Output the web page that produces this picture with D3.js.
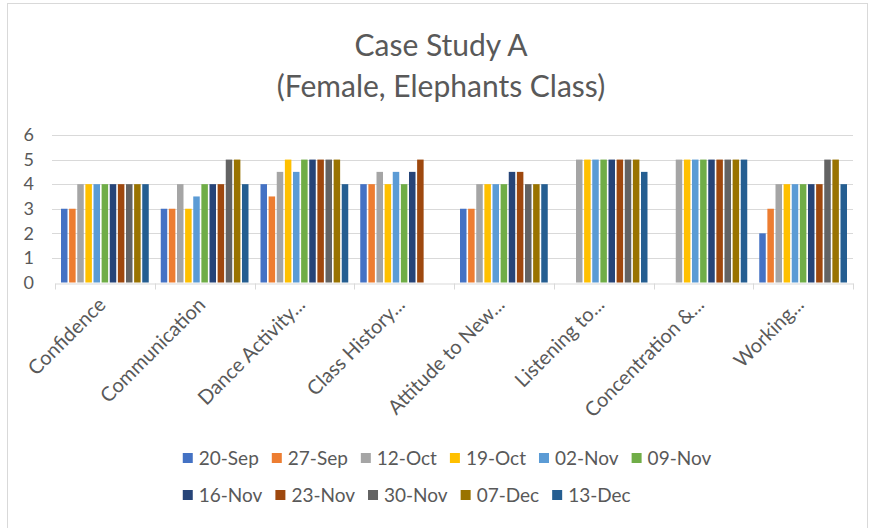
<!DOCTYPE html>
<html>
<head>
<meta charset="utf-8">
<script src="https://cdn.jsdelivr.net/npm/d3@7/dist/d3.min.js"></script>
<style>
  html, body { margin: 0; padding: 0; background: #fff; }
  svg { display: block; font-family: Lato, "Open Sans", sans-serif; }
</style>
</head>
<body>
<svg id="chart" width="870" height="528"></svg>
<script>
// Assessment categories (x axis)
const categories = [
  "Confidence", "Communication", "Dance Activity...", "Class History...",
  "Attitude to New...", "Listening to...", "Concentration &...", "Working..."
];

// Session dates (one bar per date in each category)
const sessions = [
  "20-Sep", "27-Sep", "12-Oct", "19-Oct", "02-Nov", "09-Nov",
  "16-Nov", "23-Nov", "30-Nov", "07-Dec", "13-Dec"
];

// Scores per category, in session order (null = not assessed)
const confidence    = [3, 3, 4, 4, 4, 4, 4, 4, 4, 4, 4];
const communication = [3, 3, 4, 3, 3.5, 4, 4, 4, 5, 5, 4];
const danceActivity = [4, 3.5, 4.5, 5, 4.5, 5, 5, 5, 5, 5, 4];
const classHistory  = [4, 4, 4.5, 4, 4.5, 4, 4.5, 5, null, null, null];
const attitudeNew   = [3, 3, 4, 4, 4, 4, 4.5, 4.5, 4, 4, 4];
const listening     = [null, null, 5, 5, 5, 5, 5, 5, 5, 5, 4.5];
const concentration = [null, null, 5, 5, 5, 5, 5, 5, 5, 5, 5];
const working       = [2, 3, 4, 4, 4, 4, 4, 4, 5, 5, 4];

const scores = [confidence, communication, danceActivity, classHistory,
                attitudeNew, listening, concentration, working];

const yTicks = [0, 1, 2, 3, 4, 5, 6];

const colors = ["#4472C4", "#ED7D31", "#A5A5A5", "#FFC000", "#5B9BD5", "#70AD47",
                "#264478", "#9E480E", "#636363", "#997300", "#255E91"];

const svg = d3.select("#chart");
const textColor = "#595959";
const gridColor = "#d9d9d9";

// chart frame
svg.append("rect")
  .attr("x", 7.5).attr("y", 3.5)
  .attr("width", 860).attr("height", 540)
  .attr("fill", "#fff").attr("stroke", gridColor);

// title
const title = svg.append("text")
  .attr("text-anchor", "middle")
  .attr("fill", textColor)
  .style("font-size", "30px");
title.append("tspan").attr("x", 441).attr("y", 56).text("Case Study A");
title.append("tspan").attr("x", 441).attr("y", 97).text("(Female, Elephants Class)");

// scales
const x = d3.scaleBand().domain(categories).range([55, 853]);
const xInner = d3.scaleBand().domain(sessions)
  .range([6, x.bandwidth() - 6]).paddingInner(0.2);
const y = d3.scaleLinear().domain([0, 6]).range([282.5, 135]);
const color = d3.scaleOrdinal().domain(sessions).range(colors);

// gridlines
svg.append("g")
  .selectAll("line")
  .data(yTicks.filter(d => d > 0))
  .join("line")
  .attr("x1", 52).attr("x2", 853)
  .attr("y1", d => Math.round(y(d)) + 0.5)
  .attr("y2", d => Math.round(y(d)) + 0.5)
  .attr("stroke", gridColor);

// y axis labels
svg.append("g")
  .selectAll("text")
  .data(yTicks)
  .join("text")
  .attr("x", 34)
  .attr("y", d => y(d))
  .attr("dy", "0.35em")
  .attr("text-anchor", "end")
  .attr("fill", textColor)
  .style("font-size", "18px")
  .text(d => d);

// bars
const groups = svg.append("g")
  .selectAll("g")
  .data(categories)
  .join("g")
  .attr("transform", d => `translate(${x(d)},0)`);

groups.selectAll("rect")
  .data((d, i) => sessions.map((s, j) => ({ session: s, value: scores[i][j] }))
    .filter(p => p.value != null))
  .join("rect")
  .attr("x", d => xInner(d.session))
  .attr("width", xInner.bandwidth())
  .attr("y", d => y(d.value))
  .attr("height", d => y(0) - y(d.value))
  .attr("fill", d => color(d.session));

// x axis line with category boundary ticks
const xAxis = d3.axisBottom(x).tickSize(0).tickFormat("");
const axisG = svg.append("g")
  .attr("transform", `translate(0,${Math.round(y(0)) + 0.5})`)
  .call(xAxis);
axisG.select(".domain").attr("stroke", gridColor);
const bounds = categories.map(c => x(c)).concat([x.range()[1]]);
axisG.selectAll(".bound")
  .data(bounds)
  .join("line")
  .attr("class", "bound")
  .attr("x1", d => Math.round(d) + 0.5).attr("x2", d => Math.round(d) + 0.5)
  .attr("y1", 0).attr("y2", 6)
  .attr("stroke", gridColor);

// rotated category labels
svg.append("g")
  .selectAll("text")
  .data(categories)
  .join("text")
  .attr("transform", d => `translate(${x(d) + x.bandwidth() / 2 + 2},${306}) rotate(-45)`)
  .attr("text-anchor", "end")
  .attr("fill", textColor)
  .style("font-size", "20px")
  .text(d => d);

// legend: two rows, first row centred, second row aligned to it
const legend = svg.append("g");
const rows = [sessions.slice(0, 6), sessions.slice(6)];
const rowY = [458, 495];
const sw = 10, gapText = 6, gapItem = 13;
const legendFont = "19px";
const measured = rows.map(r => r.map(s => {
  const t = legend.append("text").style("font-size", legendFont).text(s);
  const w = t.node().getComputedTextLength();
  t.remove();
  return w;
}));
const row0Width = d3.sum(measured[0]) + measured[0].length * (sw + gapText) +
                  (measured[0].length - 1) * gapItem;
const startX = 447 - row0Width / 2;
rows.forEach((r, ri) => {
  let cx = startX;
  r.forEach((s, si) => {
    const item = legend.append("g").attr("transform", `translate(${cx},${rowY[ri]})`);
    item.append("rect")
      .attr("x", 0).attr("y", -sw / 2)
      .attr("width", sw).attr("height", sw)
      .attr("fill", color(s));
    item.append("text")
      .attr("x", sw + gapText).attr("y", 0).attr("dy", "0.35em")
      .attr("fill", textColor)
      .style("font-size", legendFont)
      .text(s);
    cx += sw + gapText + measured[ri][si] + gapItem;
  });
});
</script>
</body>
</html>
